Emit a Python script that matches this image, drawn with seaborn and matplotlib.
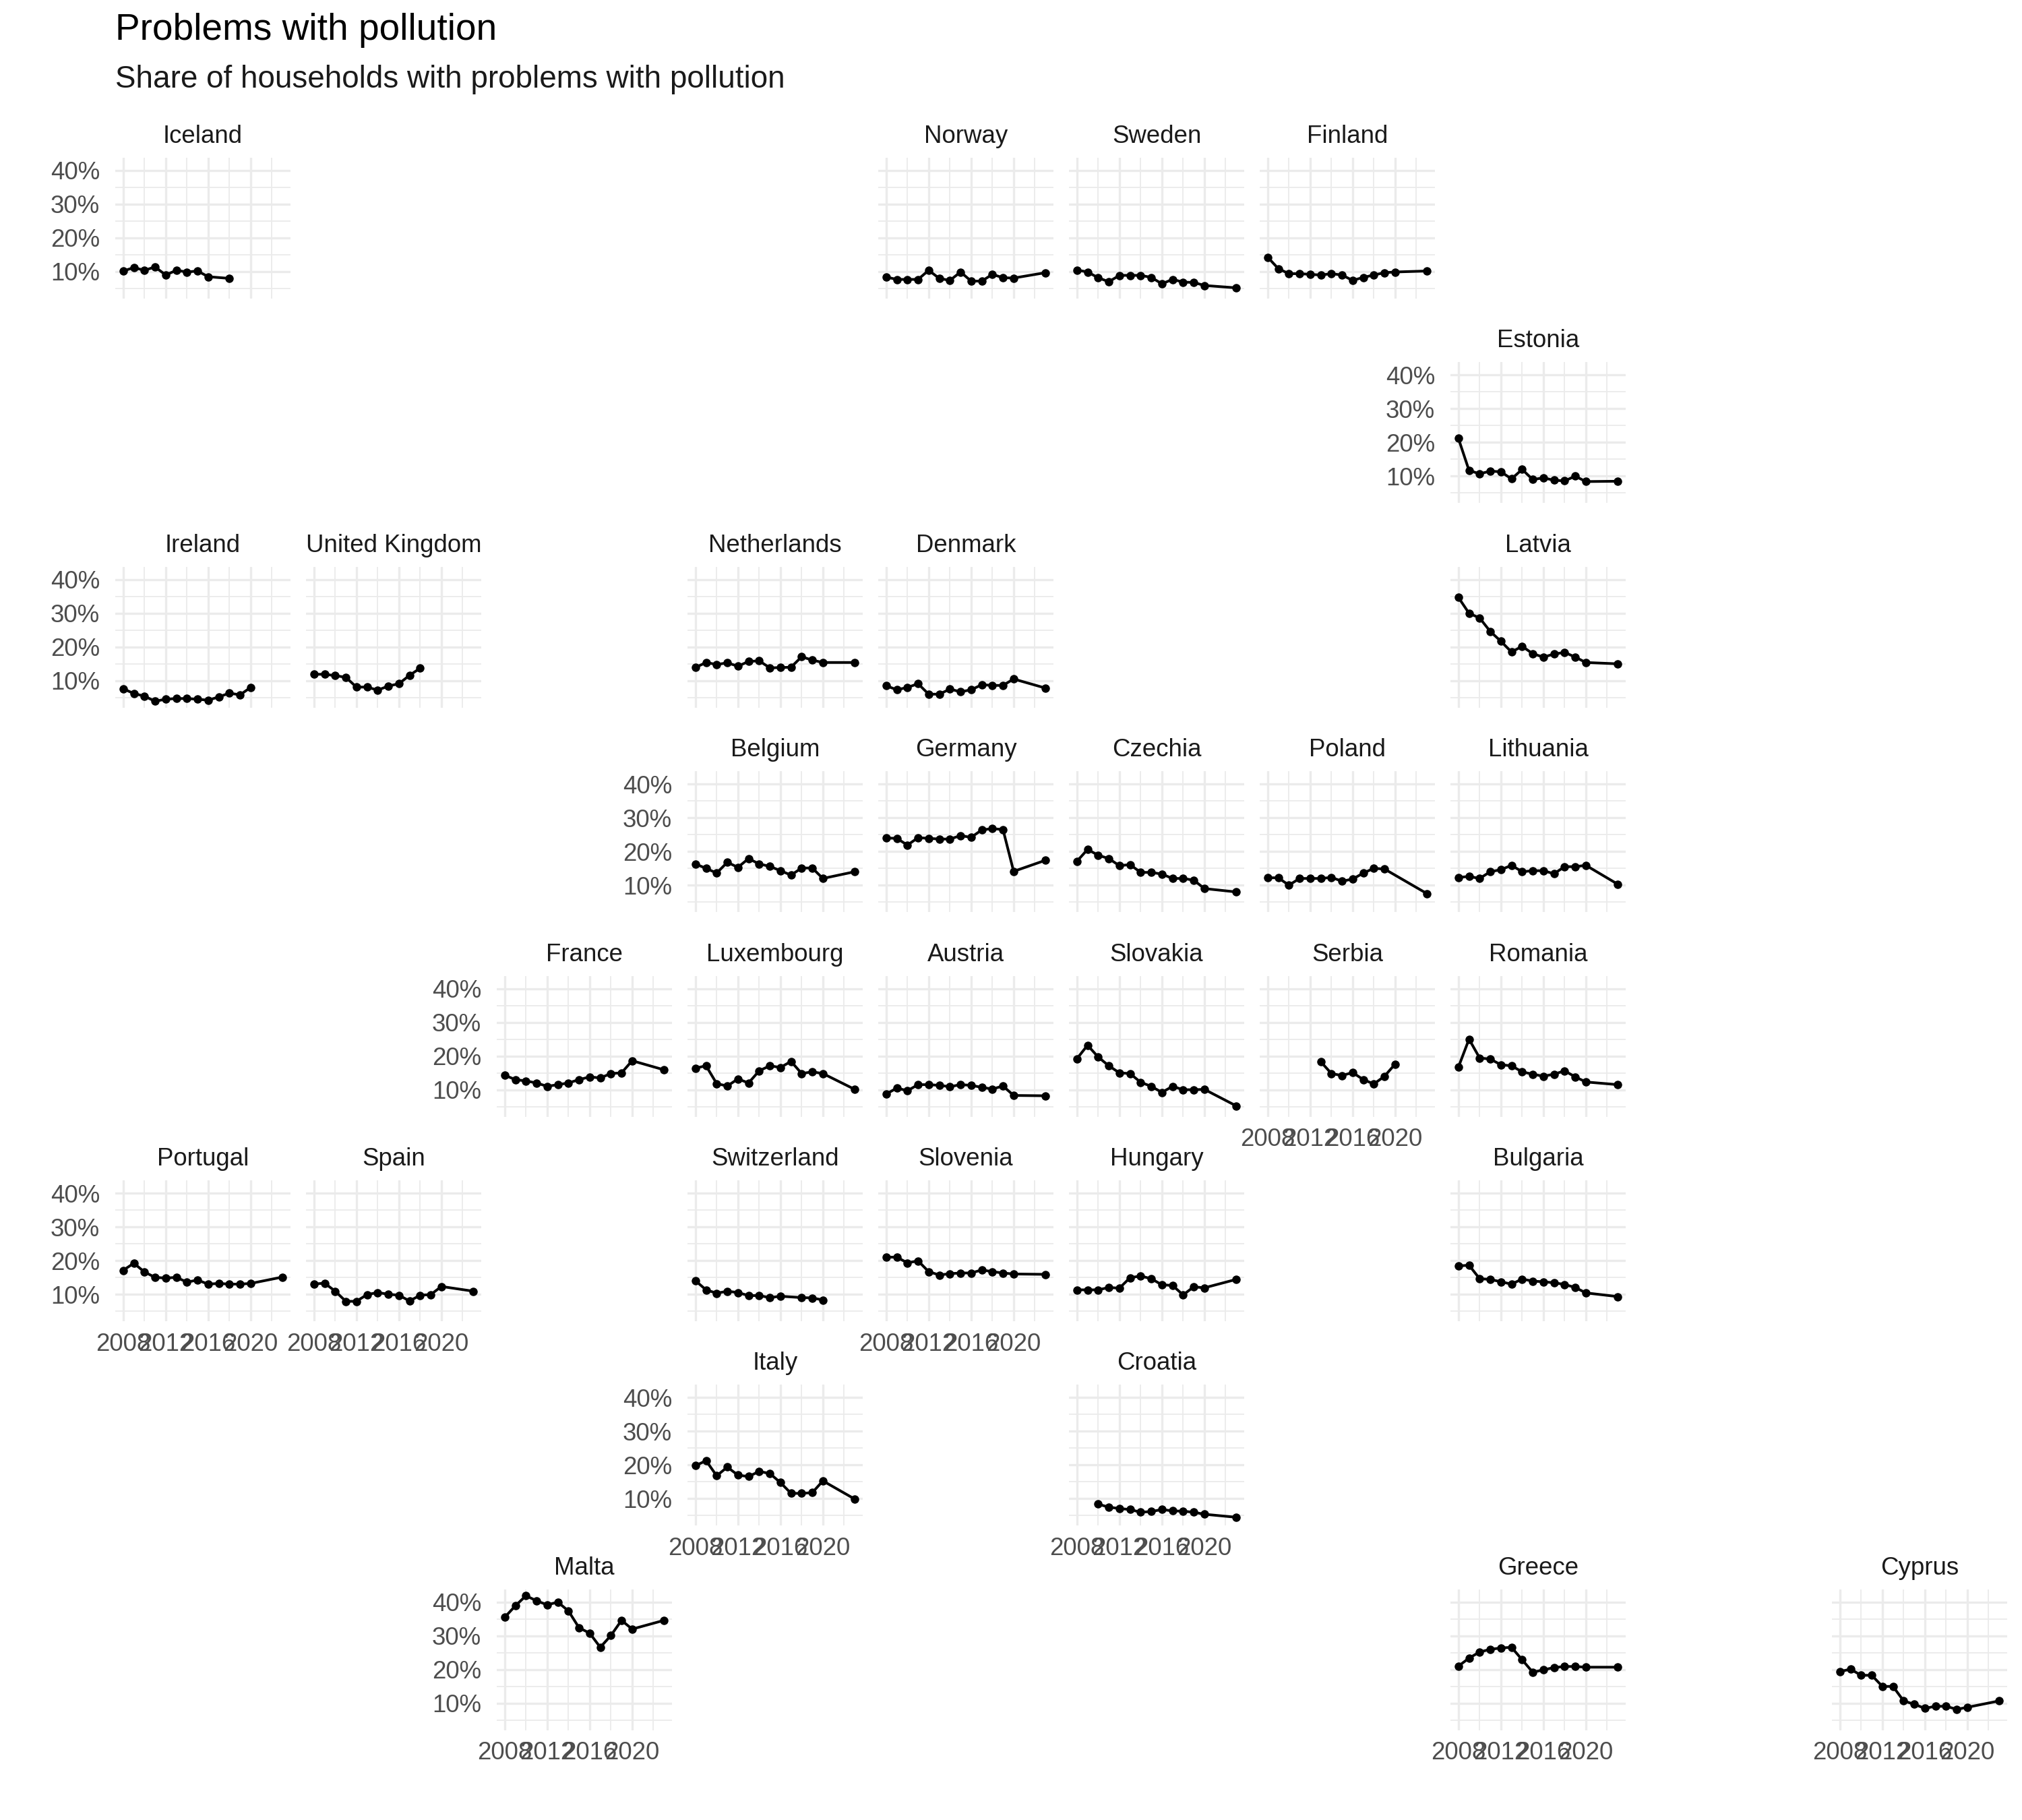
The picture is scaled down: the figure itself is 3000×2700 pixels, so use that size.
import matplotlib
matplotlib.use("Agg")
import matplotlib.pyplot as plt
import seaborn as sns
import pandas as pd
from matplotlib.ticker import FixedLocator, FuncFormatter

# years of the survey, per group of countries
years_main = [2008, 2009, 2010, 2011, 2012, 2013, 2014, 2015, 2016, 2017, 2018, 2019, 2020, 2023]
years_iceland = [2008, 2009, 2010, 2011, 2012, 2013, 2014, 2015, 2016, 2018]
years_ireland = [2008, 2009, 2010, 2011, 2012, 2013, 2014, 2015, 2016, 2017, 2018, 2019, 2020]
years_uk = [2008, 2009, 2010, 2011, 2012, 2013, 2014, 2015, 2016, 2017, 2018]
years_poland = [2008, 2009, 2010, 2011, 2012, 2013, 2014, 2015, 2016, 2017, 2018, 2019, 2023]
years_serbia = [2013, 2014, 2015, 2016, 2017, 2018, 2019, 2020]
years_switzerland = [2008, 2009, 2010, 2011, 2012, 2013, 2014, 2015, 2016, 2018, 2019, 2020]
years_croatia = [2010, 2011, 2012, 2013, 2014, 2015, 2016, 2017, 2018, 2019, 2020, 2023]

# share of households with problems with pollution (%)
iceland = [10.2, 11.2, 10.4, 11.4, 9.0, 10.4, 9.9, 10.2, 8.5, 8.0]
norway = [8.4, 7.7, 7.7, 7.7, 10.4, 8.0, 7.4, 9.9, 7.2, 7.2, 9.2, 8.2, 8.1, 9.7]
sweden = [10.5, 9.9, 8.2, 7.0, 8.9, 8.9, 8.9, 8.3, 6.4, 7.7, 6.9, 6.8, 5.9, 5.2]
finland = [14.3, 10.9, 9.4, 9.4, 9.2, 9.0, 9.4, 9.0, 7.4, 8.3, 9.0, 9.7, 9.9, 10.2]
estonia = [21.2, 11.7, 10.7, 11.5, 11.3, 9.2, 12.0, 9.0, 9.5, 8.8, 8.6, 10.0, 8.4, 8.5]
ireland = [7.6, 6.2, 5.4, 3.9, 4.5, 4.7, 4.7, 4.5, 4.2, 5.2, 6.3, 5.8, 8.0]
united_kingdom = [11.9, 11.9, 11.5, 11.0, 8.1, 8.1, 7.2, 8.4, 9.1, 11.6, 13.7]
netherlands = [13.9, 15.4, 14.8, 15.3, 14.3, 15.7, 15.9, 13.8, 13.9, 14.0, 17.1, 16.1, 15.4, 15.4]
denmark = [8.5, 7.3, 8.0, 9.1, 6.0, 6.0, 7.5, 6.7, 7.3, 8.8, 8.6, 8.6, 10.5, 7.8]
latvia = [34.7, 30.0, 28.6, 24.6, 21.7, 18.5, 20.2, 18.0, 17.0, 17.9, 18.4, 17.0, 15.4, 15.0]
belgium = [16.3, 15.0, 13.6, 16.8, 15.3, 17.9, 16.3, 15.6, 14.3, 13.0, 15.1, 15.1, 12.0, 14.0]
germany = [24.0, 23.9, 21.9, 24.1, 23.9, 23.7, 23.7, 24.7, 24.2, 26.4, 26.8, 26.5, 14.1, 17.4]
czechia = [17.1, 20.6, 18.9, 17.9, 15.8, 16.1, 13.8, 13.8, 13.3, 12.0, 12.0, 11.5, 9.0, 8.0]
poland = [12.2, 12.2, 10.0, 12.0, 12.0, 12.0, 12.3, 11.2, 11.8, 13.6, 15.0, 14.8, 7.5]
lithuania = [12.3, 12.6, 12.0, 14.0, 14.6, 15.9, 14.0, 14.3, 14.3, 13.4, 15.5, 15.5, 15.9, 10.3]
france = [14.3, 13.0, 12.6, 12.0, 11.0, 11.5, 12.0, 13.0, 13.8, 13.5, 14.8, 15.0, 18.6, 15.9]
luxembourg = [16.4, 17.1, 11.8, 11.1, 13.2, 12.0, 15.6, 17.1, 16.6, 18.4, 14.8, 15.3, 14.8, 10.1]
austria = [8.7, 10.5, 9.7, 11.5, 11.5, 11.3, 10.9, 11.5, 11.3, 10.7, 10.2, 11.1, 8.3, 8.2]
slovakia = [19.2, 23.2, 19.7, 17.1, 15.0, 14.8, 12.2, 11.0, 9.2, 11.0, 10.0, 10.0, 10.1, 5.2]
serbia = [18.3, 14.8, 14.2, 15.1, 13.0, 11.7, 14.0, 17.6]
romania = [16.7, 25.0, 19.4, 19.1, 17.4, 17.1, 15.3, 14.6, 14.0, 14.6, 15.6, 13.8, 12.3, 11.5]
portugal = [17.1, 19.2, 16.6, 15.0, 14.8, 15.0, 13.6, 14.2, 13.0, 13.2, 13.0, 13.0, 13.2, 15.1]
spain = [13.0, 13.3, 10.9, 7.9, 7.9, 9.9, 10.5, 10.0, 9.7, 8.0, 9.7, 9.9, 12.3, 10.9]
switzerland = [14.0, 11.3, 10.3, 10.9, 10.5, 9.6, 9.6, 9.0, 9.4, 9.0, 8.9, 8.3]
slovenia = [21.0, 21.0, 19.3, 19.9, 16.7, 15.7, 16.1, 16.3, 16.3, 17.2, 16.7, 16.3, 16.0, 15.9]
hungary = [11.3, 11.3, 11.3, 12.0, 11.8, 14.9, 15.4, 14.6, 12.8, 12.6, 9.8, 12.2, 11.9, 14.4]
bulgaria = [18.4, 18.6, 14.6, 14.4, 13.7, 13.0, 14.5, 13.9, 13.7, 13.4, 12.9, 12.0, 10.4, 9.3]
italy = [19.8, 21.3, 16.8, 19.4, 17.0, 16.6, 18.1, 17.5, 14.8, 11.6, 11.6, 11.8, 15.3, 9.9]
croatia = [8.4, 7.5, 7.1, 6.8, 6.0, 6.2, 6.8, 6.4, 6.3, 6.0, 5.4, 4.5]
malta = [35.5, 38.9, 41.9, 40.4, 39.2, 40.0, 37.4, 32.4, 30.8, 26.6, 30.1, 34.6, 32.0, 34.6]
greece = [21.0, 23.4, 25.2, 26.0, 26.4, 26.6, 22.9, 19.2, 19.9, 20.6, 20.9, 20.9, 20.7, 20.7]
cyprus = [19.4, 20.1, 18.3, 18.3, 15.0, 15.0, 10.7, 9.7, 8.5, 9.1, 9.1, 8.2, 8.8, 10.7]

series = {
    "Iceland": (years_iceland, iceland),
    "Norway": (years_main, norway),
    "Sweden": (years_main, sweden),
    "Finland": (years_main, finland),
    "Estonia": (years_main, estonia),
    "Ireland": (years_ireland, ireland),
    "United Kingdom": (years_uk, united_kingdom),
    "Netherlands": (years_main, netherlands),
    "Denmark": (years_main, denmark),
    "Latvia": (years_main, latvia),
    "Belgium": (years_main, belgium),
    "Germany": (years_main, germany),
    "Czechia": (years_main, czechia),
    "Poland": (years_poland, poland),
    "Lithuania": (years_main, lithuania),
    "France": (years_main, france),
    "Luxembourg": (years_main, luxembourg),
    "Austria": (years_main, austria),
    "Slovakia": (years_main, slovakia),
    "Serbia": (years_serbia, serbia),
    "Romania": (years_main, romania),
    "Portugal": (years_main, portugal),
    "Spain": (years_main, spain),
    "Switzerland": (years_switzerland, switzerland),
    "Slovenia": (years_main, slovenia),
    "Hungary": (years_main, hungary),
    "Bulgaria": (years_main, bulgaria),
    "Italy": (years_main, italy),
    "Croatia": (years_croatia, croatia),
    "Malta": (years_main, malta),
    "Greece": (years_main, greece),
    "Cyprus": (years_main, cyprus),
}

# geofacet grid: (row, col)
grid = {
    "Iceland": (0, 0), "Norway": (0, 4), "Sweden": (0, 5), "Finland": (0, 6),
    "Estonia": (1, 7),
    "Ireland": (2, 0), "United Kingdom": (2, 1), "Netherlands": (2, 3), "Denmark": (2, 4), "Latvia": (2, 7),
    "Belgium": (3, 3), "Germany": (3, 4), "Czechia": (3, 5), "Poland": (3, 6), "Lithuania": (3, 7),
    "France": (4, 2), "Luxembourg": (4, 3), "Austria": (4, 4), "Slovakia": (4, 5), "Serbia": (4, 6), "Romania": (4, 7),
    "Portugal": (5, 0), "Spain": (5, 1), "Switzerland": (5, 3), "Slovenia": (5, 4), "Hungary": (5, 5), "Bulgaria": (5, 7),
    "Italy": (6, 3), "Croatia": (6, 5),
    "Malta": (7, 2), "Greece": (7, 7), "Cyprus": (7, 9),
}

rows = []
for name, (yrs, vals) in series.items():
    for y, v in zip(yrs, vals):
        rows.append({"country": name, "year": y, "share": v})
df = pd.DataFrame(rows)

sns.set_theme(style="white")
plt.rcParams["font.family"] = ["Liberation Sans", "DejaVu Sans"]

W, H = 3000, 2700
fig = plt.figure(figsize=(10, 9), dpi=300)

left0, top0 = 171, 234
col_step, row_step = 283, 303.4
pw, ph = 260, 209

vmin, vmax = df["share"].min(), df["share"].max()
pad_y = (vmax - vmin) * 0.05
ylim = (vmin - pad_y, vmax + pad_y)
xmin, xmax = df["year"].min(), df["year"].max()
pad_x = (xmax - xmin) * 0.05
xlim = (xmin - pad_x, xmax + pad_x)

first_in_row = {}
last_in_col = {}
for name, (r, c) in grid.items():
    if r not in first_in_row or c < grid[first_in_row[r]][1]:
        first_in_row[r] = name
    if c not in last_in_col or r > grid[last_in_col[c]][0]:
        last_in_col[c] = name

grey = "#EBEBEB"
for name, (r, c) in grid.items():
    x0 = left0 + c * col_step
    y0 = top0 + r * row_step
    ax = fig.add_axes([x0 / W, 1 - (y0 + ph) / H, pw / W, ph / H])
    sub = df[df["country"] == name]
    sns.lineplot(data=sub, x="year", y="share", ax=ax, color="black", linewidth=0.95,
                 marker="o", markersize=3.0, markeredgewidth=0)
    ax.set_xlim(xlim)
    ax.set_ylim(ylim)
    ax.xaxis.set_major_locator(FixedLocator([2008, 2012, 2016, 2020]))
    ax.xaxis.set_minor_locator(FixedLocator([2010, 2014, 2018, 2022]))
    ax.yaxis.set_major_locator(FixedLocator([10, 20, 30, 40]))
    ax.yaxis.set_minor_locator(FixedLocator([5, 15, 25, 35]))
    ax.yaxis.set_major_formatter(FuncFormatter(lambda v, p: f"{v:.0f}%"))
    ax.grid(which="major", color=grey, linewidth=0.8)
    ax.grid(which="minor", color=grey, linewidth=0.45)
    ax.set_axisbelow(True)
    for s in ax.spines.values():
        s.set_visible(False)
    ax.set_xlabel("")
    ax.set_ylabel("")
    ax.tick_params(which="both", length=0, labelsize=8.8, labelcolor="#4D4D4D")
    ax.tick_params(axis="y", pad=5.5)
    ax.tick_params(axis="x", pad=4.0)
    if first_in_row[r] != name:
        ax.set_yticklabels([])
    if last_in_col[c] != name:
        ax.set_xticklabels([])
    ax.set_title(name, fontsize=8.8, color="#1A1A1A", pad=5.3)

fig.text(left0 / W, 1 - 59 / H, "Problems with pollution", fontsize=13.2,
         color="black", va="baseline", ha="left")
fig.text(left0 / W, 1 - 130 / H, "Share of households with problems with pollution",
         fontsize=11, color="#1A1A1A", va="baseline", ha="left")

fig.savefig("out.png", dpi=300, facecolor="white")
